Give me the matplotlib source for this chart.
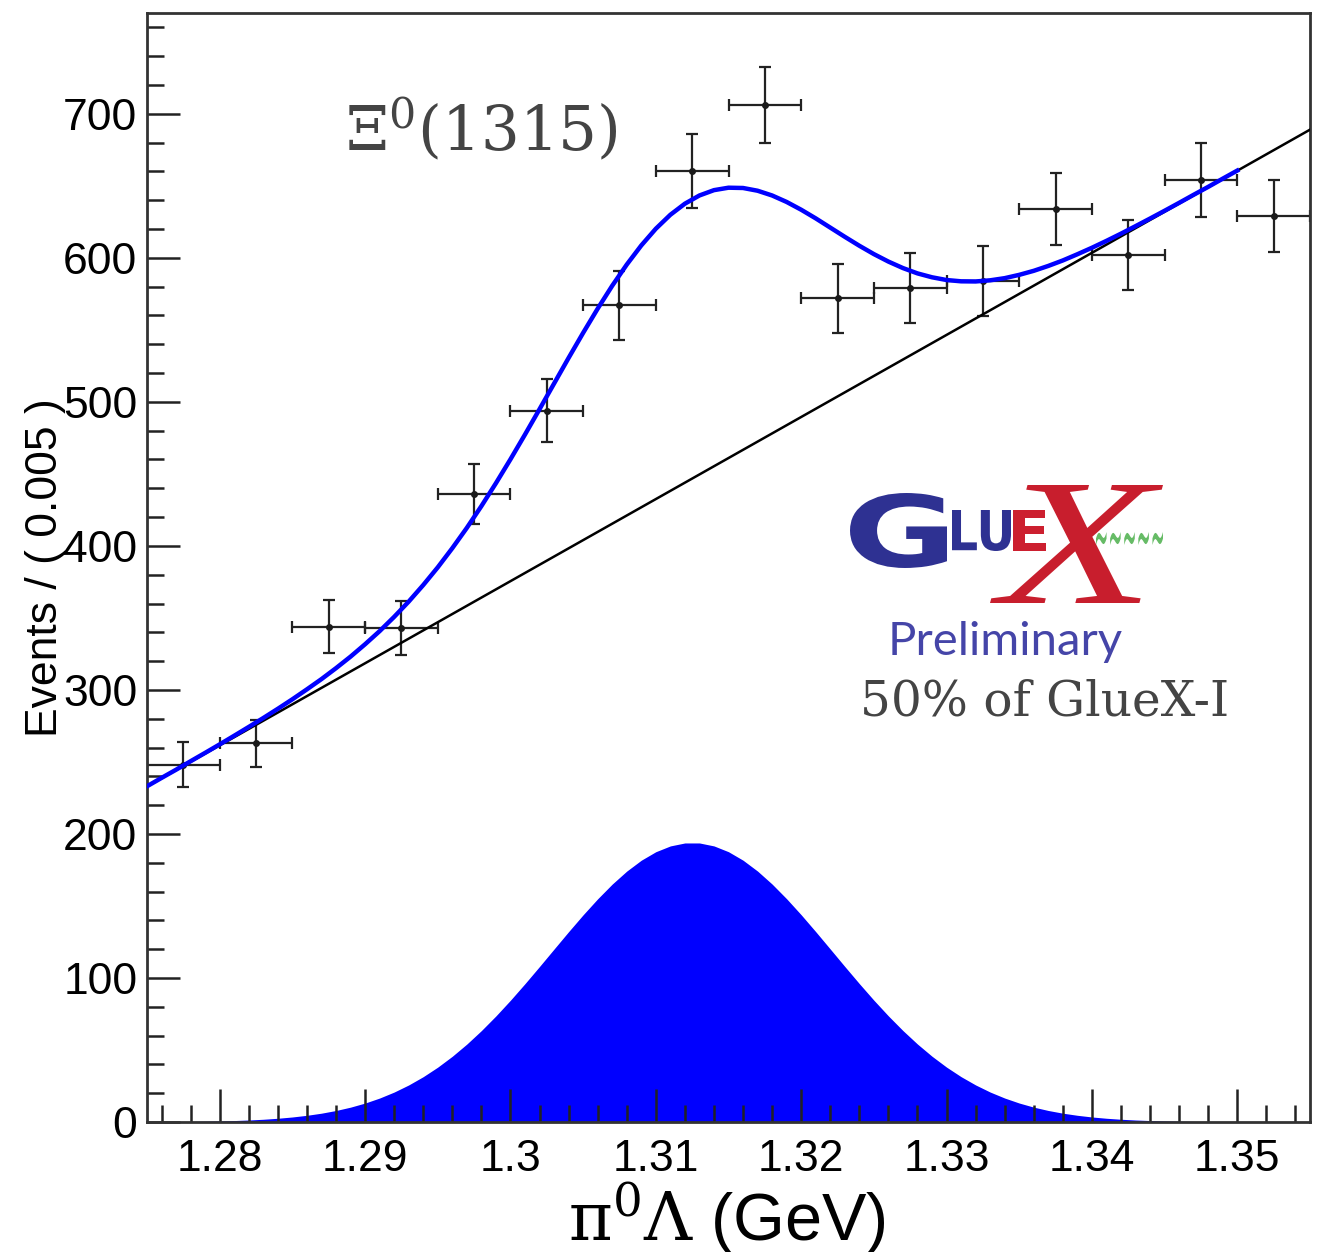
import numpy as np
import matplotlib.pyplot as plt
from matplotlib.ticker import MultipleLocator
from matplotlib.textpath import TextPath
from matplotlib.patches import PathPatch
from matplotlib.font_manager import FontProperties
from matplotlib.transforms import Affine2D, IdentityTransform

plt.rcParams['font.family'] = ['Liberation Sans', 'DejaVu Sans']
plt.rcParams['mathtext.fontset'] = 'dejavuserif'

# pi0 Lambda invariant mass, 0.005 GeV bins
mass = [1.2775, 1.2825, 1.2875, 1.2925, 1.2975, 1.3025, 1.3075, 1.3125,
        1.3175, 1.3225, 1.3275, 1.3325, 1.3375, 1.3425, 1.3475, 1.3525]
events = [248, 263, 344, 343, 436, 494, 567, 660,
          706, 572, 579, 584, 634, 602, 654, 629]
err = [15.7, 16.2, 18.5, 18.5, 20.9, 22.2, 23.8, 25.7,
       26.6, 23.9, 24.1, 24.2, 25.2, 24.5, 25.6, 25.1]
bin_half = 0.0025

# fit curves every 1 MeV from 1.275 to 1.355
curve_x = np.linspace(1.275, 1.355, 81)
signal = [0.11, 0.16, 0.24, 0.35, 0.50, 0.71, 1.00, 1.38, 1.90, 2.59,
          3.49, 4.65, 6.12, 7.99, 10.31, 13.16, 16.63, 20.79, 25.72, 31.47,
          38.10, 45.65, 54.11, 63.47, 73.65, 84.56, 96.07, 107.98, 120.09, 132.15,
          143.88, 154.98, 165.19, 174.21, 181.77, 187.66, 191.69, 193.74, 193.74, 191.69,
          187.66, 181.77, 174.21, 165.19, 154.98, 143.88, 132.15, 120.09, 107.98, 96.07,
          84.56, 73.65, 63.47, 54.11, 45.65, 38.10, 31.47, 25.72, 20.79, 16.63,
          13.16, 10.31, 7.99, 6.12, 4.65, 3.49, 2.59, 1.90, 1.38, 1.00,
          0.71, 0.50, 0.35, 0.24, 0.16, 0.11, 0.07, 0.05, 0.03, 0.02,
          0.01]
# signal + background, fit range ends at 1.35
total = [233.1, 238.9, 244.6, 250.5, 256.3, 262.2, 268.2, 274.3, 280.5, 286.9,
         293.5, 300.4, 307.5, 315.1, 323.1, 331.7, 340.8, 350.7, 361.3, 372.8,
         385.1, 398.4, 412.5, 427.6, 443.5, 460.1, 477.3, 494.9, 512.7, 530.5,
         547.9, 564.7, 580.6, 595.3, 608.6, 620.2, 629.9, 637.6, 643.3, 647.0,
         648.7, 648.5, 646.6, 643.3, 638.8, 633.4, 627.4, 621.0, 614.6, 608.4,
         602.6, 597.4, 592.9, 589.2, 586.5, 584.6, 583.7, 583.6, 584.4, 585.9,
         588.2, 591.0, 594.4, 598.2, 602.5, 607.0, 611.8, 616.8, 622.0, 627.3,
         632.7, 638.2, 643.8, 649.3, 655.0, 660.6]
bkg_x = [1.275, 1.355]
bkg_y = [233, 689]

xticks = [1.28, 1.29, 1.30, 1.31, 1.32, 1.33, 1.34, 1.35]
xtick_labels = ['1.28', '1.29', '1.3', '1.31', '1.32', '1.33', '1.34', '1.35']
yticks = [0, 100, 200, 300, 400, 500, 600, 700]

W, H = 1329, 1252
fig = plt.figure(figsize=(W / 100, H / 100), dpi=100)
ax = fig.add_axes([147 / W, 130 / H, 1163 / W, 1109 / H])


def px(x, y):
    return x / W, 1 - y / H


def boxed_text(s, x0, x1, y_top, y_bot, color, **font):
    # text outline stretched to fill a pixel box (for the logo)
    path = TextPath((0, 0), s, size=1, prop=FontProperties(**font))
    ext = path.get_extents()
    tr = (Affine2D().translate(-ext.x0, -ext.y0)
          .scale((x1 - x0) / ext.width, (y_bot - y_top) / ext.height)
          .translate(x0, H - y_bot))
    fig.add_artist(PathPatch(path, transform=tr + IdentityTransform(),
                             facecolor=color, lw=0))


ax.fill_between(curve_x, 0, signal, color='#0000ff', lw=0, zorder=1)
ax.errorbar(mass, events, xerr=bin_half, yerr=err, fmt='o', ms=4,
            color='#1a1a1a', ecolor='#222222', elinewidth=1.6,
            capsize=4, capthick=1.6, zorder=2)
ax.plot(bkg_x, bkg_y, color='black', lw=1.8, zorder=3)
ax.plot(curve_x[:len(total)], total, color='#0000ff', lw=3.2, zorder=4)

ax.set_xlim(1.275, 1.355)
ax.set_ylim(0, 770)
ax.set_xticks(xticks)
ax.set_xticklabels(xtick_labels)
ax.set_yticks(yticks)
ax.xaxis.set_minor_locator(MultipleLocator(0.002))
ax.yaxis.set_minor_locator(MultipleLocator(20))
ax.tick_params(which='both', direction='in', top=False, right=False,
               width=1.8, color='#222222', labelsize=32)
ax.tick_params(which='major', length=24)
ax.tick_params(which='minor', length=12)
ax.tick_params(axis='x', pad=12)
ax.tick_params(axis='y', pad=7)
for s in ax.spines.values():
    s.set_linewidth(2.0)
    s.set_color('#333333')

ax.set_ylabel('Events / ( 0.005 )', fontsize=32)
ax.yaxis.label.set_verticalalignment('center')
ax.yaxis.set_label_coords(-0.087, 0.5)
fig.text(727 / W, 11 / H, r'$\mathrm{\pi}^{0}\Lambda$ (GeV)', fontsize=48,
         ha='center', va='baseline')

# annotations
fig.text(*px(345, 150), 'Ξ$^{0}$(1315)', fontsize=44, color='#444444',
         family='DejaVu Serif', ha='left', va='baseline')
fig.text(*px(860, 715), '50% of GlueX-I', fontsize=35, color='#444444',
         family='DejaVu Serif', ha='left', va='baseline')

# GlueX logo
boxed_text('G', 850, 947, 493, 568, '#2e3192', family='DejaVu Sans', weight='bold')
boxed_text('LU', 952, 1011, 510, 551, '#2e3192', family='DejaVu Sans', weight='bold')
boxed_text('E', 1013, 1046, 510, 551, '#cc1f2f', family='DejaVu Sans', weight='bold')
boxed_text('X', 990, 1163, 485, 603, '#c81e2d', family='Liberation Serif',
           style='italic')
boxed_text('~~~~~', 1096, 1163, 532, 545, '#66bb66', family='DejaVu Sans')
fig.text(*px(888, 655), 'Preliminary', fontsize=34, color='#4545a8',
         family='Lato', ha='left', va='baseline')

fig.savefig('out.png', dpi=100)
